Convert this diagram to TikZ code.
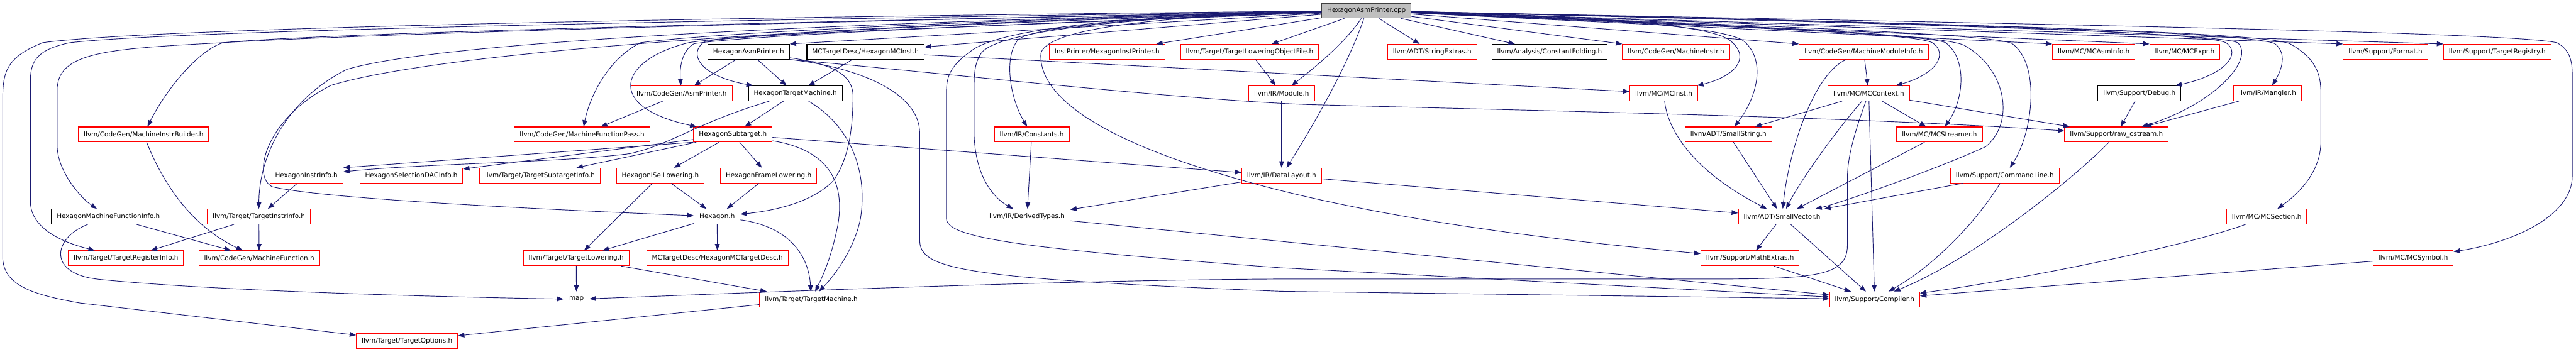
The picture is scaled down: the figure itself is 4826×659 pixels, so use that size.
\documentclass[tikz,border=0pt]{standalone}
\usepackage{fontspec}
\setmainfont{DejaVu Sans}
\usetikzlibrary{arrows.meta}
\definecolor{edgeblue}{HTML}{191970}
\definecolor{trunc}{HTML}{FF0000}
\definecolor{srcgray}{HTML}{BFBFBF}
\definecolor{srcline}{HTML}{404040}

\begin{document}
\begin{tikzpicture}[x=1pt, y=-1pt, font=\fontsize{12.3}{14}\selectfont,
    hdr/.style={draw, line width=1.2pt, inner xsep=10pt, inner ysep=0pt, minimum height=28pt},
    redhdr/.style={hdr, draw=trunc},
    blackhdr/.style={hdr, draw=black},
    srcfile/.style={hdr, draw=srcline, fill=srcgray},
    syshdr/.style={hdr, draw=srcgray},
    incl/.style={draw=edgeblue, line width=1.1pt, -{Triangle[length=12pt, width=9pt]}}]
    \useasboundingbox (0,0) rectangle (4826,659);

    \node[srcfile] (cpp) at (2560,20) {HexagonAsmPrinter.cpp};

    \node[blackhdr] (hap) at (1402.5,97) {HexagonAsmPrinter.h};
    \node[blackhdr] (hmci) at (1621.5,97) {MCTargetDesc/HexagonMCInst.h};
    \node[redhdr] (ip) at (2074,97) {InstPrinter/HexagonInstPrinter.h};
    \node[redhdr] (tlof) at (2341,97) {llvm/Target/TargetLoweringObjectFile.h};
    \node[redhdr] (se) at (2683,97) {llvm/ADT/StringExtras.h};
    \node[blackhdr] (cf) at (2903,97) {llvm/Analysis/ConstantFolding.h};
    \node[redhdr] (mi) at (3140,97) {llvm/CodeGen/MachineInstr.h};
    \node[redhdr] (mmi) at (3491.5,97) {llvm/CodeGen/MachineModuleInfo.h};
    \node[redhdr] (mai) at (3922.5,97) {llvm/MC/MCAsmInfo.h};
    \node[redhdr] (mex) at (4093,97) {llvm/MC/MCExpr.h};
    \node[redhdr] (fmt) at (4469,97) {llvm/Support/Format.h};
    \node[redhdr] (treg) at (4678.5,97) {llvm/Support/TargetRegistry.h};

    \node[redhdr] (ap) at (1277,175) {llvm/CodeGen/AsmPrinter.h};
    \node[blackhdr] (htm) at (1490,175) {HexagonTargetMachine.h};
    \node[redhdr] (mod) at (2401,175) {llvm/IR/Module.h};
    \node[redhdr] (mci) at (3117,175) {llvm/MC/MCInst.h};
    \node[redhdr] (mcc) at (3501,175) {llvm/MC/MCContext.h};
    \node[blackhdr] (dbg) at (4008,175) {llvm/Support/Debug.h};
    \node[redhdr] (man) at (4248,175) {llvm/IR/Mangler.h};

    \node[redhdr] (mib) at (269,252) {llvm/CodeGen/MachineInstrBuilder.h};
    \node[redhdr] (mfp) at (1090.5,252) {llvm/CodeGen/MachineFunctionPass.h};
    \node[redhdr] (hst) at (1373,252) {HexagonSubtarget.h};
    \node[redhdr] (con) at (1933,252) {llvm/IR/Constants.h};
    \node[redhdr] (ss) at (3238,252) {llvm/ADT/SmallString.h};
    \node[redhdr] (mcs) at (3633.5,252) {llvm/MC/MCStreamer.h};
    \node[redhdr] (ro) at (3965,252) {llvm/Support/raw\_ostream.h};

    \node[redhdr] (hii) at (574,329) {HexagonInstrInfo.h};
    \node[redhdr] (sdi) at (770.5,329) {HexagonSelectionDAGInfo.h};
    \node[redhdr] (tsi) at (1011.5,329) {llvm/Target/TargetSubtargetInfo.h};
    \node[redhdr] (isl) at (1237,329) {HexagonISelLowering.h};
    \node[redhdr] (fl) at (1440,329) {HexagonFrameLowering.h};
    \node[redhdr] (dl) at (2401,329) {llvm/IR/DataLayout.h};
    \node[redhdr] (cl) at (3756,329) {llvm/Support/CommandLine.h};

    \node[blackhdr] (hmfi) at (203,406) {HexagonMachineFunctionInfo.h};
    \node[redhdr] (tii) at (485,406) {llvm/Target/TargetInstrInfo.h};
    \node[blackhdr] (hex) at (1343.5,406) {Hexagon.h};
    \node[redhdr] (dt) at (1924,406) {llvm/IR/DerivedTypes.h};
    \node[redhdr] (sv) at (3338.5,406) {llvm/ADT/SmallVector.h};
    \node[redhdr] (msec) at (4246.5,406) {llvm/MC/MCSection.h};

    \node[redhdr] (tri) at (236,484) {llvm/Target/TargetRegisterInfo.h};
    \node[redhdr] (mf) at (485.5,484) {llvm/CodeGen/MachineFunction.h};
    \node[redhdr] (tl) at (1079.5,484) {llvm/Target/TargetLowering.h};
    \node[redhdr] (mctd) at (1344,484) {MCTargetDesc/HexagonMCTargetDesc.h};
    \node[redhdr] (mx) at (3278.5,484) {llvm/Support/MathExtras.h};
    \node[redhdr] (msym) at (4521,484) {llvm/MC/MCSymbol.h};

    \node[syshdr] (map) at (1080,561) {map};
    \node[redhdr] (tm) at (1520,561) {llvm/Target/TargetMachine.h};
    \node[redhdr] (comp) at (3512,561) {llvm/Support/Compiler.h};

    \node[redhdr] (topt) at (762.5,639) {llvm/Target/TargetOptions.h};

    \draw[incl] (cpp) .. controls (1500,30) and (300,50) .. (80,80) .. controls (5,110) and (5,140) .. (5,200) -- (5,480) .. controls (5,535) and (60,552) .. (150,568) -- (topt);
    \draw[incl] (cpp) .. controls (1500,35) and (350,55) .. (131,80) .. controls (75,92) and (57,110) .. (57,150) -- (57,378) .. controls (57,420) and (100,450) .. (tri);
    \draw[incl] (cpp) .. controls (1500,40) and (650,65) .. (400,81) .. controls (190,92) and (107,100) .. (107,170) -- (107,272) .. controls (107,320) and (150,370) .. (hmfi);
    \draw[incl] (cpp) .. controls (1500,40) and (600,62) .. (418,80) .. controls (370,95) and (310,170) .. (mib);
    \draw[incl] (cpp) .. controls (1400,45) and (800,85) .. (650,130) .. controls (530,190) and (485,300) .. (tii);
    \draw[incl] (cpp) .. controls (1400,50) and (800,105) .. (620,160) .. controls (500,220) and (470,330) .. (510,350) .. controls (600,372) and (1000,392) .. (hex);
    \draw[incl] (cpp) .. controls (1900,35) and (1350,60) .. (1200,80) .. controls (1140,110) and (1105,180) .. (mfp);
    \draw[incl] (cpp) .. controls (1900,40) and (1400,62) .. (1290,80) .. controls (1160,112) and (1130,200) .. (hst);
    \draw[incl] (cpp) .. controls (1900,45) and (1400,66) .. (1300,82) .. controls (1276,96) and (1273,130) .. (ap);
    \draw[incl] (cpp) .. controls (1900,48) and (1400,62) .. (1320,78) .. controls (1288,100) and (1310,142) .. (htm);
    \draw[incl] (cpp) -- (hap.north east);
    \draw[incl] (cpp) -- (hmci);
    \draw[incl] (cpp) -- (ip);
    \draw[incl] (cpp) -- (tlof);
    \draw[incl] (cpp) -- (se);
    \draw[incl] (cpp) -- (cf);
    \draw[incl] (cpp) -- (mi.north west);
    \draw[incl] (cpp) .. controls (2520,80) and (2465,125) .. (mod);
    \draw[incl] (cpp) .. controls (2530,110) and (2470,220) .. (dl);
    \draw[incl] (cpp) .. controls (2200,30) and (1960,45) .. (1910,72) .. controls (1880,100) and (1890,180) .. (con);
    \draw[incl] (cpp) .. controls (2150,30) and (1870,55) .. (1838,100) .. controls (1825,120) and (1825,140) .. (1825,170) -- (1825,255) .. controls (1828,330) and (1860,370) .. (dt);
    \draw[incl] (cpp) .. controls (2150,28) and (1880,50) .. (1820,95) .. controls (1778,125) and (1773,145) .. (1773,175) -- (1773,410) .. controls (1775,445) and (1900,465) .. (2400,502) -- (comp);
    \draw[incl] (cpp) .. controls (2100,32) and (1960,62) .. (1950,100) .. controls (1945,180) and (2060,260) .. (2300,330) .. controls (2600,420) and (3000,458) .. (mx);
    \draw[incl] (cpp) .. controls (2900,28) and (3190,40) .. (3240,75) .. controls (3285,110) and (3245,145) .. (mci);
    \draw[incl] (cpp) .. controls (2900,30) and (3230,45) .. (3268,78) .. controls (3310,115) and (3290,185) .. (ss);
    \draw[incl] (cpp) -- (mmi.north west);
    \draw[incl] (cpp) .. controls (3000,40) and (3580,58) .. (3620,80) .. controls (3650,100) and (3630,138) .. (mcc);
    \draw[incl] (cpp) .. controls (3000,42) and (3600,60) .. (3645,80) .. controls (3685,110) and (3680,185) .. (mcs);
    \draw[incl] (cpp) .. controls (3100,42) and (3630,60) .. (3680,85) .. controls (3760,130) and (3775,230) .. (3720,275) .. controls (3620,320) and (3450,380) .. (sv);
    \draw[incl] (cpp) .. controls (3200,45) and (3740,62) .. (3770,82) .. controls (3822,120) and (3810,245) .. (cl);
    \draw[incl] (cpp) -- (mai.north west);
    \draw[incl] (cpp) -- (mex.north west);
    \draw[incl] (cpp) .. controls (3500,40) and (4125,58) .. (4170,80) .. controls (4200,100) and (4170,140) .. (dbg);
    \draw[incl] (cpp) .. controls (3500,42) and (4150,60) .. (4192,80) .. controls (4225,110) and (4150,195) .. (ro);
    \draw[incl] (cpp) .. controls (3600,42) and (4220,60) .. (4262,82) .. controls (4285,100) and (4275,130) .. (man);
    \draw[incl] (cpp) .. controls (3700,45) and (4235,60) .. (4290,82) .. controls (4340,110) and (4348,140) .. (4348,175) -- (4348,265) .. controls (4348,320) and (4310,360) .. (msec);
    \draw[incl] (cpp) -- (fmt.north west);
    \draw[incl] (cpp) -- (treg.north west);
    \draw[incl] (cpp) .. controls (3800,45) and (4700,60) .. (4790,80) .. controls (4812,92) and (4819,110) .. (4819,140) -- (4819,330) .. controls (4819,400) and (4720,452) .. (msym);

    \draw[incl] (hap) -- (ap);
    \draw[incl] (hap) -- (htm);
    \draw[incl] (hap) .. controls (1560,120) and (1598,140) .. (1598,180) .. controls (1598,240) and (1590,300) .. (1560,340) .. controls (1520,380) and (1450,395) .. (hex);
    \draw[incl] (hap.south east) .. controls (1800,140) and (2200,186) .. (2450,196) .. controls (2900,208) and (3500,220) .. (ro);
    \draw[incl] (hap.south east) .. controls (1600,125) and (1723,170) .. (1723,250) -- (1723,450) .. controls (1723,505) and (1800,522) .. (2400,546) -- (comp);
    \draw[incl] (hmci) -- (htm);
    \draw[incl] (hmci) -- (mci);
    \draw[incl] (ap) -- (mfp);
    \draw[incl] (htm) -- (hst);
    \draw[incl] (htm) .. controls (1600,240) and (1625,330) .. (1612,410) .. controls (1600,470) and (1560,520) .. (tm);
    \draw[incl] (htm) .. controls (1300,232) and (1260,270) .. (1180,288) .. controls (1050,305) and (800,306) .. (hii);
    \draw[incl] (hst.south west) -- (hii.north east);
    \draw[incl] (hst) -- (sdi);
    \draw[incl] (hst) -- (tsi);
    \draw[incl] (hst) -- (isl);
    \draw[incl] (hst) -- (fl);
    \draw[incl] (hst) .. controls (1560,282) and (1585,350) .. (1568,430) .. controls (1555,490) and (1540,520) .. (tm);
    \draw[incl] (hst) -- (dl);
    \draw[incl] (isl) -- (hex);
    \draw[incl] (isl) -- (tl);
    \draw[incl] (fl) -- (hex);
    \draw[incl] (hex) -- (tl);
    \draw[incl] (hex) -- (mctd);
    \draw[incl] (hex) .. controls (1480,425) and (1515,480) .. (tm);
    \draw[incl] (tl) -- (map);
    \draw[incl] (tl) -- (tm);
    \draw[incl] (tm) -- (topt);
    \draw[incl] (hii) -- (tii);
    \draw[incl] (hmfi) -- (mf);
    \draw[incl] (hmfi) .. controls (100,445) and (85,515) .. (190,524) .. controls (400,545) and (800,556) .. (map);
    \draw[incl] (mib) .. controls (300,330) and (350,420) .. (mf);
    \draw[incl] (tii) -- (mf);
    \draw[incl] (tii) -- (tri);
    \draw[incl] (tlof) -- (mod);
    \draw[incl] (mod) -- (dl);
    \draw[incl] (con) -- (dt);
    \draw[incl] (dl) -- (dt);
    \draw[incl] (dl) -- (sv);
    \draw[incl] (dt) -- (comp);
    \draw[incl] (mci) .. controls (3125,250) and (3180,325) .. (sv);
    \draw[incl] (sv) -- (mx);
    \draw[incl] (mx) -- (comp);
    \draw[incl] (sv) -- (comp);
    \draw[incl] (ss) -- (sv);
    \draw[incl] (mmi) -- (mcc);
    \draw[incl] (mmi) .. controls (3395,140) and (3350,290) .. (sv);
    \draw[incl] (mcc) -- (ss);
    \draw[incl] (mcc) .. controls (3440,245) and (3375,335) .. (sv);
    \draw[incl] (mcc) .. controls (3470,260) and (3461,300) .. (3461,335) -- (3461,460) .. controls (3461,518) and (3400,523) .. (3200,523) -- (2400,523) .. controls (2000,525) and (1500,545) .. (map);
    \draw[incl] (mcc) -- (comp);
    \draw[incl] (mcc) -- (mcs);
    \draw[incl] (mcc) -- (ro);
    \draw[incl] (mcs) -- (sv);
    \draw[incl] (cl) -- (sv);
    \draw[incl] (cl) .. controls (3700,420) and (3620,500) .. (comp);
    \draw[incl] (ro) .. controls (3890,330) and (3700,485) .. (comp);
    \draw[incl] (dbg) -- (ro);
    \draw[incl] (man) -- (ro);
    \draw[incl] (msec) .. controls (4100,460) and (3800,522) .. (comp);
    \draw[incl] (msym) -- (comp);
\end{tikzpicture}
\end{document}
